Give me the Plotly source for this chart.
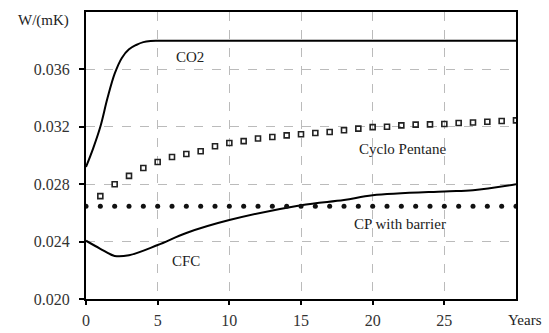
import plotly.graph_objects as go

co2_x = [0, 0.5, 1, 1.5, 2, 2.5, 3, 3.5, 4, 4.5, 5, 30]
co2_y = [0.0292, 0.0305, 0.0320, 0.0340, 0.0357, 0.0368, 0.0374, 0.0377, 0.0379, 0.03798, 0.0380, 0.0380]

cp_x = list(range(1, 31))
cp_y = [0.02717, 0.0280, 0.02858, 0.02913, 0.02955, 0.0299, 0.0301, 0.0303, 0.03064, 0.03087,
        0.0310, 0.03118, 0.03129, 0.0314, 0.03148, 0.03157, 0.03164, 0.03176, 0.03187, 0.03198,
        0.0320, 0.0321, 0.03215, 0.03217, 0.0322, 0.03227, 0.0323, 0.03235, 0.0324, 0.03245]

cpb_x = list(range(0, 31))
cpb_y = [0.02647] * 31

cfc_x = [0, 1, 2, 3, 5, 7, 10, 15, 18, 20, 25, 27, 30]
cfc_y = [0.02406, 0.0235, 0.0230, 0.02305, 0.02376, 0.0246, 0.0255, 0.02654, 0.0269, 0.02723, 0.0275, 0.02758, 0.0280]

x_ticks = [0, 5, 10, 15, 20, 25]
y_ticks = [0.020, 0.024, 0.028, 0.032, 0.036]

labels = [("CO2", 7.26, 0.03686), ("Cyclo Pentane", 22.05, 0.03044),
          ("CP with barrier", 21.9, 0.02522), ("CFC", 6.98, 0.02267)]

font_family = "Liberation Serif"
tick_font = dict(family=font_family, size=16, color="#333")

fig = go.Figure()
fig.add_trace(go.Scatter(x=co2_x, y=co2_y, mode="lines", line=dict(color="black", width=2), line_shape="spline"))
fig.add_trace(go.Scatter(x=cfc_x, y=cfc_y, mode="lines", line=dict(color="black", width=2), line_shape="spline"))
fig.add_trace(go.Scatter(x=cp_x, y=cp_y, mode="markers",
                         marker=dict(symbol="square-open", size=5, color="#222", line=dict(width=1.6, color="#222"))))
fig.add_trace(go.Scatter(x=cpb_x, y=cpb_y, mode="markers",
                         marker=dict(symbol="circle", size=5, color="#111")))

for text, x, y in labels:
    fig.add_annotation(x=x, y=y, text=text, showarrow=False, xanchor="center", yanchor="middle",
                       font=dict(family=font_family, size=15, color="#222"))

fig.add_annotation(xref="paper", yref="paper", x=1.0 + (525 - 516) / 430, y=-(320 - 299) / 287,
                   xanchor="center", yanchor="middle",
                   text="Years", showarrow=False, font=dict(family=font_family, size=15, color="#222"))
fig.add_annotation(xref="paper", yref="paper", x=-(86 - 43) / 430, y=1 + (12 - 20) / 287,
                   xanchor="center", yanchor="middle",
                   text="W/(mK)", showarrow=False, font=dict(family=font_family, size=15, color="#222"))

fig.update_layout(
    width=549, height=333,
    margin=dict(l=86, r=33, t=12, b=34, autoexpand=False),
    paper_bgcolor="white", plot_bgcolor="white",
    showlegend=False,
    font=dict(family=font_family, size=16, color="#333"),
)
fig.update_xaxes(range=[0, 30], tickvals=x_ticks, ticktext=[str(v) for v in x_ticks], tickfont=tick_font,
                 showline=True, linecolor="black", linewidth=2, mirror=True, automargin=False,
                 ticks="outside", ticklen=4, tickwidth=2, tickcolor="black", ticklabelstandoff=2,
                 showgrid=True, gridcolor="#bbb", griddash="dash", gridwidth=1, zeroline=False)
fig.update_yaxes(range=[0.020, 0.040], tickvals=y_ticks, ticktext=[f"{v:.3f}" for v in y_ticks], tickfont=tick_font,
                 showline=True, linecolor="black", linewidth=2, mirror=True, automargin=False,
                 ticks="outside", ticklen=5, tickwidth=2, tickcolor="black", ticklabelstandoff=6,
                 showgrid=True, gridcolor="#bbb", griddash="dash", gridwidth=1, zeroline=False)

fig.write_html("out.html")
